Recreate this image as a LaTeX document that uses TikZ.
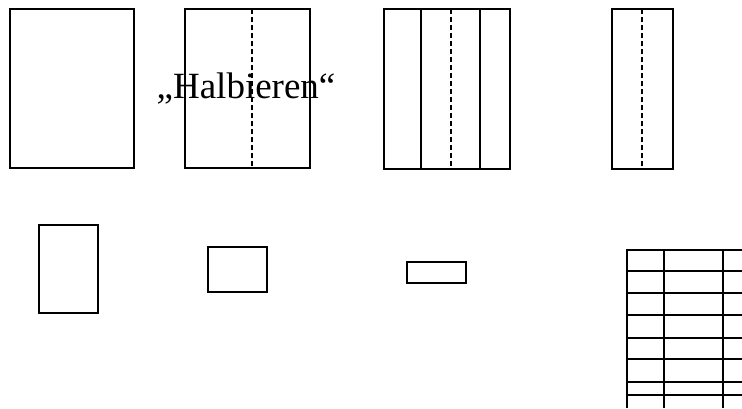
\documentclass[tikz,border=0pt]{standalone}
\usepackage{fontspec}
\setmainfont{Liberation Serif}
\begin{document}
\begin{tikzpicture}[x=1pt,y=-1pt,
  edge/.style={draw=black,line width=1.3pt},
  fold/.style={draw=black,line width=1.3pt,dash pattern=on 5pt off 3pt}]
\useasboundingbox (0,0) rectangle (742,408);
% top row
\draw[edge] (10,9) rectangle (134,168);
\draw[edge] (185,9) rectangle (310,168);
\draw[fold] (252,9) -- (252,168);
\draw[edge] (384,9) rectangle (510,169);
\draw[edge] (421,9) -- (421,169);
\draw[edge] (480,9) -- (480,169);
\draw[fold] (451,9) -- (451,169);
\draw[edge] (612,9) rectangle (673,169);
\draw[fold] (642,9) -- (642,169);
\node[anchor=base,font=\fontsize{37}{41}\selectfont,inner sep=0pt] (label) at (246,98) {„Halbieren“};
% bottom row
\draw[edge] (39,225) rectangle (98,313);
\draw[edge] (208,247) rectangle (267,292);
\draw[edge] (407,262) rectangle (466,283);
% grid
\draw[edge] (627,408) -- (627,250) -- (742,250);
\draw[edge] (664,250) -- (664,408);
\draw[edge] (723,250) -- (723,408);
\foreach \yy in {271,293,315,338,359,382,395}
  \draw[edge] (627,\yy) -- (742,\yy);
\end{tikzpicture}
\end{document}
